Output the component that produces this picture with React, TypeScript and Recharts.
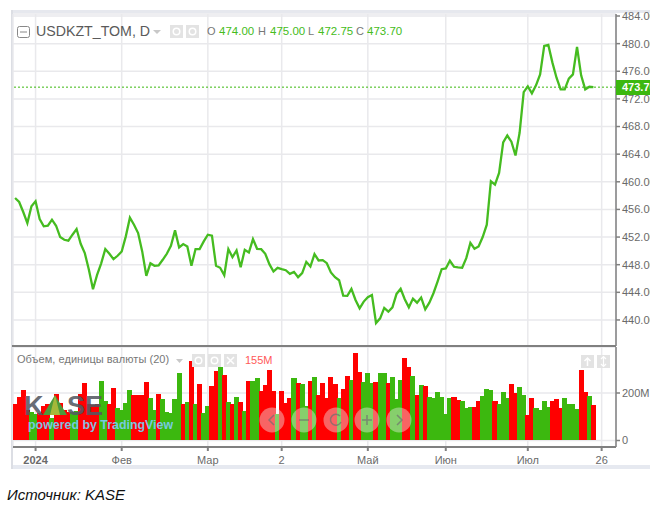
import React from "react";
import { ComposedChart, Line, Bar, XAxis, YAxis, CartesianGrid, ReferenceLine } from "recharts";

const closePrices = [
  457.66, 457.08, 455.63, 454.03, 456.45, 457.18, 454.61, 453.55, 453.64, 454.51,
  453.64, 452.0, 451.61, 451.47, 452.34, 453.16, 451.03, 449.68, 447.26, 444.45,
  446.53, 448.2, 450.26, 449.58, 448.8, 449.29, 449.92, 452.1, 454.8, 453.79,
  452.58, 449.92, 446.39, 448.2, 447.84, 447.9, 448.71, 449.58, 450.74, 452.97,
  450.5, 450.98, 450.64, 447.84, 450.26, 450.26, 451.37, 452.34, 452.2, 447.84,
  447.55, 446.48, 450.26, 449.09, 450.06, 447.64, 450.16, 449.77, 451.7, 450.3,
  450.25, 449.58, 448.08, 447.01, 447.54, 447.35, 447.2, 446.67, 446.96, 446.19,
  446.77, 448.41, 447.74, 449.53, 448.61, 448.66, 448.22, 446.87, 446.19, 445.75,
  443.53, 443.48, 444.5, 442.9, 441.69, 442.66, 443.29, 443.62, 439.56, 440.24,
  441.74, 441.2, 441.83, 443.77, 444.5, 443.0, 441.83, 443.09, 442.5, 443.24,
  441.54, 442.5, 443.87, 445.56, 447.35, 447.45, 448.56, 447.7, 447.6, 447.55,
  448.95, 451.15, 450.31, 450.65, 452.0, 453.79, 460.08, 459.6, 461.29, 465.7,
  466.7, 465.8, 463.8, 467.09, 472.99, 473.81, 472.8, 473.96, 475.55, 479.67,
  479.81, 477.25, 475.07, 473.38, 473.38, 474.93, 475.55, 479.52, 475.41, 473.38,
  473.76, 473.7,
];

const volumes = [
  154, 184, 212, 128, 120, 110, 115, 146, 152, 94,
  197, 159, 128, 121, 120, 125, 197, 243, 152, 150,
  152, 251, 166, 152, 221, 135, 128, 156, 212, 193,
  190, 193, 246, 177, 128, 197, 174, 119, 116, 174,
  283, 153, 163, 333, 152, 236, 115, 146, 228, 294,
  308, 275, 163, 153, 185, 163, 123, 251, 251, 264,
  208, 232, 298, 208, 112, 208, 159, 181, 264, 243,
  239, 146, 251, 266, 193, 243, 177, 266, 239, 177,
  215, 270, 255, 367, 290, 246, 286, 243, 247, 286,
  283, 243, 266, 174, 255, 348, 309, 270, 193, 235,
  228, 185, 181, 204, 185, 112, 177, 185, 170, 166,
  135, 142, 142, 166, 189, 217, 212, 166, 155, 204,
  181, 236, 201, 224, 193, 109, 181, 135, 127, 166,
  142, 166, 174, 135, 181, 155, 155, 131, 298, 204,
  189, 150,
];

const volumeSides = [
  "r", "r", "r", "r", "g", "g", "r", "r", "r", "g",
  "r", "r", "r", "r", "g", "g", "r", "r", "r", "r",
  "r", "g", "g", "r", "r", "g", "g", "g", "g", "r",
  "r", "r", "r", "g", "g", "r", "g", "g", "g", "g",
  "g", "r", "g", "r", "g", "r", "g", "g", "r", "r",
  "g", "r", "g", "r", "g", "r", "g", "r", "g", "g",
  "r", "r", "r", "r", "g", "r", "r", "r", "g", "r",
  "g", "g", "r", "g", "r", "r", "r", "r", "r", "g",
  "r", "r", "g", "r", "r", "g", "g", "g", "r", "g",
  "g", "r", "g", "g", "g", "r", "r", "g", "r", "g",
  "r", "g", "g", "g", "g", "g", "g", "r", "r", "g",
  "g", "g", "r", "r", "g", "g", "g", "r", "g", "g",
  "g", "r", "r", "g", "g", "r", "r", "g", "g", "g",
  "g", "r", "r", "r", "g", "g", "g", "g", "r", "r",
  "g", "r",
];

const SLOT_COUNT = 147;
const slots = Array.from({ length: SLOT_COUNT }, (_, i) => i);
const tickSlots = [5, 26, 47, 65, 86, 105, 125, 143];
const tickLabels = ["2024", "Фев", "Мар", "2", "Май", "Июн", "Июл", "26"];
const priceTicks = [440, 444, 448, 452, 456, 460, 464, 468, 472, 476, 480, 484];
const volumeTicks = [0, 200];
const lastClose = 473.7;

const priceRows = slots.map((i) => ({ i, close: closePrices[i] }));
const volumeRows = slots.map((i) => ({ i, volume: volumes[i] }));

const GREEN = "#3cb80f";
const LINE = "#45bc20";
const RED = "#ff0000";
const GRID = "#e9e9ec";
const AXIS = "#808080";
const LABEL = "#6a6a6a";
const SANS = "'Liberation Sans', Arial, sans-serif";

const Txt = ({ x, y, c = LABEL, s = 11, w = 400, children, ls }: any) => (
  <div
    style={{
      position: "absolute",
      left: x,
      top: y,
      color: c,
      fontSize: s,
      fontWeight: w,
      lineHeight: `${s + 2}px`,
      whiteSpace: "nowrap",
      fontFamily: SANS,
      letterSpacing: ls,
    }}
  >
    {children}
  </div>
);

const XTick = ({ x, y, payload }: any) => {
  const idx = tickSlots.indexOf(payload.value);
  return (
    <text x={x} y={y + 3} textAnchor="middle" fontSize={11} fontFamily={SANS} fill={LABEL} fontWeight={idx === 0 ? 700 : 400} dominantBaseline="hanging">
      {tickLabels[idx]}
    </text>
  );
};

const VolumeBar = ({ x, y, width, height, payload }: any) => {
  if (!height || height <= 0) return null;
  const left = Math.floor(x);
  return (
    <rect
      x={left}
      y={y}
      width={Math.ceil(x + width) - left}
      height={height}
      fill={volumeSides[payload.i] === "r" ? RED : GREEN}
      shapeRendering="crispEdges"
    />
  );
};

const Square = ({ x, y, size = 13 }: any) => (
  <g>
    <rect x={x} y={y} width={size} height={size} fill="#e3e3e3" />
    <circle cx={x + size / 2} cy={y + size / 2} r={size / 4} fill="none" stroke="#fff" strokeWidth={1.5} />
  </g>
);

const Overlay = () => (
  <svg width={650} height={507} style={{ position: "absolute", left: 0, top: 0, pointerEvents: "none" }}>
    <rect x={17.5} y={26.5} width={12} height={11} rx={2} fill="none" stroke="#888" />
    <line x1={20} x2={27} y1={32} y2={32} stroke="#888" />
    <polygon points="153,30 161,30 157,34" fill="#c8c8c8" />
    <Square x={170} y={25} />
    <Square x={186} y={25} />
    <polygon points="176,359 183,359 179.5,363" fill="#c8c8c8" />
    <Square x={192} y={354} />
    <Square x={208} y={354} />
    <rect x={224} y={354} width={13} height={13} fill="#e3e3e3" />
    <path d="M227 357 L234 364 M234 357 L227 364" stroke="#fff" strokeWidth={1.5} />
    <rect x={581} y={355} width={13} height={13} fill="#e3e3e3" />
    <path d="M587.5 358 L587.5 366 M584.5 361 L587.5 358 L590.5 361" stroke="#fff" strokeWidth={1.5} fill="none" />
    <rect x={597} y={355} width={13} height={13} fill="#e3e3e3" />
    <path d="M603.5 357 L603.5 366 M601 359 L603.5 356.5 L606 359 M601 364 L603.5 366.5 L606 364" stroke="#fff" strokeWidth={1.2} fill="none" />

    <text x={24} y={415} fontFamily={SANS} fontWeight={700} fontSize={27} fill="#555a63" fillOpacity={0.9}>K</text>
    <polygon points="55,395 43,415 67,415" fill="#4d9a3a" />
    <polygon points="55,395 50,415 60,415" fill="#a5b83a" />
    <text x={67} y={415} fontFamily={SANS} fontWeight={700} fontSize={27} fill="#555a63" fillOpacity={0.9}>SE</text>
    <text x={28} y={429} fontFamily={SANS} fontWeight={700} fontSize={12.4} fill="#7ccbf0" fillOpacity={0.95}>powered by TradingView</text>

    {[272, 304, 336, 367, 399].map((cx) => (
      <circle key={cx} cx={cx} cy={420} r={12.5} fill="#eeeeee" fillOpacity={0.42} />
    ))}
    <g stroke="#6f6f6f" strokeOpacity={0.7} strokeWidth={1.5} fill="none">
      <path d="M274 415 L269 420 L274 425" />
      <path d="M299 420 L309 420" />
      <path d="M340 416 A5.5 5.5 0 1 0 341 422" />
      <path d="M362 420 L372 420 M367 415 L367 425" />
      <path d="M397 415 L402 420 L397 425" />
    </g>
  </svg>
);

export default function App() {
  return (
    <div style={{ position: "absolute", left: 0, top: 0, width: 650, height: 507, background: "#fff", overflow: "hidden" }}>
      <div style={{ position: "absolute", left: 12, top: 10, width: 638, height: 3, background: "#e6e8ee" }} />
      <div style={{ position: "absolute", left: 12, top: 465, width: 638, height: 4, background: "#e6e9f0" }} />
      <div style={{ position: "absolute", left: 11, top: 10, width: 2, height: 459, background: "#dcdee4" }} />

      <div style={{ position: "absolute", left: 0, top: 0 }}>
        <ComposedChart width={650} height={346} data={priceRows} margin={{ top: 14, right: 0, bottom: 0, left: 13 }}>
          <CartesianGrid stroke={GRID} strokeWidth={1.5} />
          <XAxis dataKey="i" type="category" scale="band" hide ticks={tickSlots} interval={0} />
          <YAxis
            orientation="right"
            width={34}
            domain={[436.23, 484.29]}
            ticks={priceTicks}
            interval={0}
            tickFormatter={(v: number) => v.toFixed(2)}
            tick={{ fontSize: 11, fill: LABEL, fontFamily: SANS }}
            tickSize={4}
            tickMargin={2}
            stroke={AXIS}
            strokeWidth={1.5}
          />
          <ReferenceLine y={lastClose} stroke={GREEN} strokeDasharray="2 2" />
          <Line dataKey="close" type="linear" stroke={LINE} strokeWidth={2.3} dot={false} isAnimationActive={false} connectNulls={false} />
        </ComposedChart>
      </div>

      <div style={{ position: "absolute", left: 0, top: 346 }}>
        <ComposedChart width={650} height={121} data={volumeRows} barCategoryGap={0} barGap={0} margin={{ top: 1, right: 0, bottom: 0, left: 13 }}>
          <CartesianGrid stroke={GRID} strokeWidth={1.5} />
          <XAxis
            dataKey="i"
            type="category"
            scale="band"
            ticks={tickSlots}
            interval={0}
            height={20}
            tick={<XTick />}
            tickSize={4}
            stroke={AXIS}
            strokeWidth={2}
          />
          <YAxis
            orientation="right"
            width={34}
            domain={[-27.4, 393.7]}
            ticks={volumeTicks}
            interval={0}
            tickFormatter={(v: number) => (v === 0 ? "0" : `${v}M`)}
            tick={{ fontSize: 11, fill: LABEL, fontFamily: SANS }}
            tickSize={4}
            tickMargin={2}
            stroke={AXIS}
            strokeWidth={1.5}
          />
          <Bar dataKey="volume" isAnimationActive={false} barSize={4.1} shape={<VolumeBar />} />
        </ComposedChart>
      </div>

      <div style={{ position: "absolute", left: 12, top: 345, width: 604, height: 2, background: AXIS }} />

      <Overlay />

      <Txt x={36} y={23} s={14.2} c="#5a5a5a">USDKZT_TOM, D</Txt>
      <Txt x={207} y={25} c="#777">O</Txt>
      <Txt x={219} y={25} c={LINE} s={11.5}>474.00</Txt>
      <Txt x={258} y={25} c="#777">H</Txt>
      <Txt x={270} y={25} c={LINE} s={11.5}>475.00</Txt>
      <Txt x={308} y={25} c="#777">L</Txt>
      <Txt x={318} y={25} c={LINE} s={11.5}>472.75</Txt>
      <Txt x={356} y={25} c="#777">C</Txt>
      <Txt x={367} y={25} c={LINE} s={11.5}>473.70</Txt>

      <Txt x={17} y={353} s={11} c="#777" ls={0.05}>Объем, единицы валюты (20)</Txt>
      <Txt x={245} y={354} s={11} c="#ff5a5a">155M</Txt>

      <div style={{ position: "absolute", left: 616, top: 80, width: 34, height: 15, background: GREEN }} />
      <Txt x={622} y={81} c="#fff" w={700}>473.70</Txt>

      <div style={{ position: "absolute", left: 7, top: 486, fontFamily: SANS, fontStyle: "italic", fontSize: 15, lineHeight: "18px", color: "#111" }}>
        Источник: KASE
      </div>
    </div>
  );
}
